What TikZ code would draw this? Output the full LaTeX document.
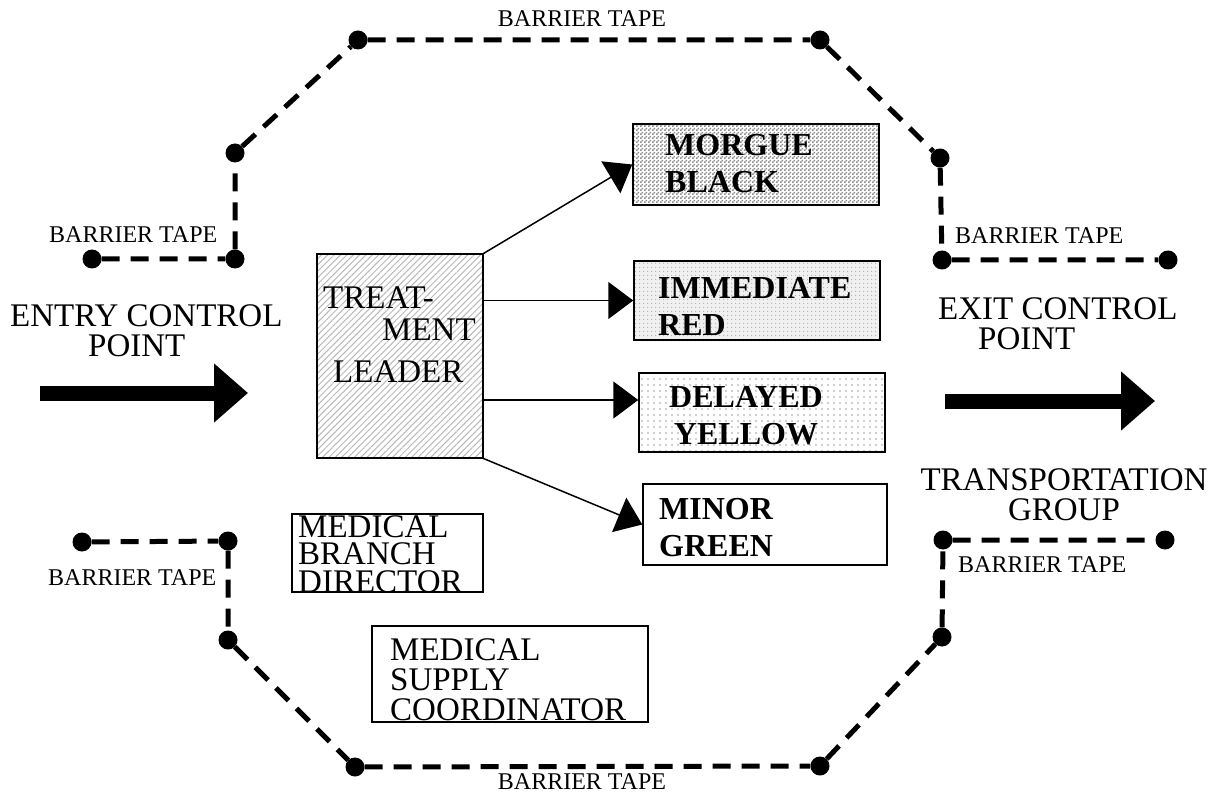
\documentclass[tikz,border=0pt]{standalone}
\usepackage{fontspec}
\setmainfont{Liberation Serif}
\usetikzlibrary{positioning,arrows.meta,patterns,patterns.meta,calc}

\pgfdeclarepatternformonly{finechecker}{\pgfpointorigin}{\pgfpoint{4pt}{4pt}}{\pgfpoint{4pt}{4pt}}{%
  \pgfpathrectangle{\pgfpointorigin}{\pgfpoint{2pt}{2pt}}%
  \pgfpathrectangle{\pgfpoint{2pt}{2pt}}{\pgfpoint{2pt}{2pt}}%
  \pgfusepath{fill}}

\begin{document}
\begin{tikzpicture}[
  x=1pt, y=-1pt,
  big/.style={font=\fontsize{33}{30}\selectfont, inner sep=0pt, align=left},
  tag/.style={font=\bfseries\fontsize{32}{37}\selectfont, inner sep=0pt, align=left},
  tapelbl/.style={font=\fontsize{24}{26}\selectfont, inner sep=0pt},
  box/.style={draw, line width=1.5pt, inner sep=0pt},
  post/.style={circle, fill, inner sep=0pt, minimum size=19pt},
  tape/.style={line width=5pt, dash pattern=on 18pt off 11pt},
  link/.style={line width=1.5pt, -{Triangle[length=25pt,width=37pt]}},
  flow/.style={line width=15pt, -{Triangle[length=34pt,width=57pt]}},
]
\useasboundingbox (0,0) rectangle (1222,799);

% barrier tape
\node[post] (ul1)  at (92,259)   {};
\node[post] (ul2)  at (235,259)  {};
\node[post] (ul3)  at (235,153)  {};
\node[post] (top1) at (358,40)   {};
\node[post] (top2) at (820,40)   {};
\node[post] (ur3)  at (940,158)  {};
\node[post] (ur2)  at (942,260)  {};
\node[post] (ur1)  at (1168,260) {};
\node[post] (ll1)  at (82,542)   {};
\node[post] (ll2)  at (228,541)  {};
\node[post] (ll3)  at (228,640)  {};
\node[post] (bot1) at (355,767)  {};
\node[post] (bot2) at (820,766)  {};
\node[post] (lr3)  at (942,637)  {};
\node[post] (lr2)  at (943,540)  {};
\node[post] (lr1)  at (1165,540) {};
\draw[tape] (ul1) -- (ul2) -- (ul3) -- (top1) -- (top2) -- (ur3) -- (ur2) -- (ur1);
\draw[tape] (ll1) -- (ll2) -- (ll3) -- (bot1) -- (bot2) -- (lr3) -- (lr2) -- (lr1);

\node[tapelbl] (toplbl) at (582,19) {BARRIER TAPE};
\node[tapelbl, anchor=base west] (ullbl) at (49,243) {BARRIER TAPE};
\node[tapelbl, anchor=base west] (urlbl) at (955,244) {BARRIER TAPE};
\node[tapelbl, anchor=base west] (lllbl) at (48,585) {BARRIER TAPE};
\node[tapelbl, anchor=base west] (lrlbl) at (958,572) {BARRIER TAPE};
\node[tapelbl] (botlbl) at (582,782) {BARRIER TAPE};

% boxes
\node[box, minimum width=166pt, minimum height=204pt, fill=white,
      pattern={Lines[angle=45, distance=4.5pt, line width=1pt]}, pattern color=gray!55]
      (lead) at (400,356) {};
\node[box, minimum width=246pt, minimum height=81pt, preaction={fill=white},
      pattern=finechecker, pattern color=gray!90] (morgue) at (756,164.5) {};
\node[box, minimum width=246pt, minimum height=79pt, preaction={fill=gray!12},
      pattern={Dots[distance=4pt, radius=0.9pt]}, pattern color=gray!60] (imm) at (757,300.5) {};
\node[box, minimum width=246pt, minimum height=79pt, preaction={fill=white},
      pattern={Dots[distance=6pt, radius=1.1pt]}, pattern color=gray!50] (del) at (762,412.5) {};
\node[box, minimum width=244pt, minimum height=81pt] (minor) at (765,524.5) {};
\node[box, minimum width=191pt, minimum height=78pt] (mbd) at (387.5,553) {};
\node[box, minimum width=276pt, minimum height=96pt] (msc) at (510,674) {};

\node[big, font=\fontsize{33}{32}\selectfont, anchor=north west] (leadtxt) at (323,287)
  {TREAT-\\\hspace*{59pt}MENT\\[10pt]\hspace*{10pt}LEADER};
\node[tag, anchor=north west] (morguetxt) at (665,134) {MORGUE\\BLACK};
\node[tag, anchor=north west] (immtxt) at (658,277) {IMMEDIATE\\RED};
\node[tag, align=center, anchor=north] (deltxt) at (746,386) {DELAYED\\YELLOW};
\node[tag, anchor=north west] (minortxt) at (659,498) {MINOR\\GREEN};
\node[big, font=\fontsize{33}{27.5}\selectfont, anchor=north west] (mbdtxt) at (298,515)
  {MEDICAL\\BRANCH\\DIRECTOR};
\node[big, anchor=north west] (msctxt) at (390,638) {MEDICAL\\SUPPLY\\COORDINATOR};

\draw[link] (lead.north east) -- (morgue.west);
\draw[link] (lead.east |- imm.west) -- (imm.west);
\draw[link] (lead.east |- 0,400) -- (del.west |- 0,400);
\draw[link] (lead.south east) -- (minor.west);

% entry and exit
\node[big, anchor=north west] (entrytxt) at (10,304) {ENTRY CONTROL\\\hspace*{78pt}POINT};
\node[big, anchor=north west] (exittxt) at (938,297) {EXIT CONTROL\\\hspace*{40pt}POINT};
\node[big, align=center, anchor=north] (transtxt) at (1064,468) {TRANSPORTATION\\GROUP};
\coordinate (entryA) at (40,393);
\coordinate (entryB) at (248,393);
\coordinate (exitA) at (945,401);
\coordinate (exitB) at (1155,401);
\draw[flow] (entryA) -- (entryB);
\draw[flow] (exitA) -- (exitB);
\end{tikzpicture}
\end{document}
